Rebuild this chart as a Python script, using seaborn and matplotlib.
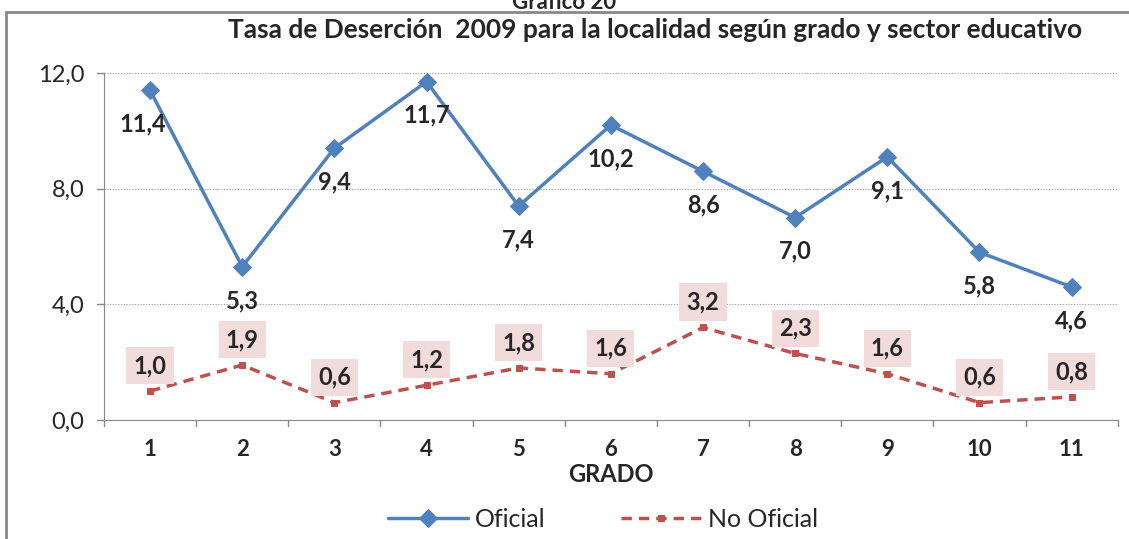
import matplotlib
matplotlib.use("Agg")
import matplotlib.pyplot as plt
import seaborn as sns
import pandas as pd
from matplotlib.patches import Rectangle

# data
grados = [1, 2, 3, 4, 5, 6, 7, 8, 9, 10, 11]
oficial = [11.4, 5.3, 9.4, 11.7, 7.4, 10.2, 8.6, 7.0, 9.1, 5.8, 4.6]
no_oficial = [1.0, 1.9, 0.6, 1.2, 1.8, 1.6, 3.2, 2.3, 1.6, 0.6, 0.8]
y_ticks = [0.0, 4.0, 8.0, 12.0]

df = pd.DataFrame({
    "grado": grados * 2,
    "tasa": oficial + no_oficial,
    "sector": ["Oficial"] * len(grados) + ["No Oficial"] * len(grados),
})

sns.set_style("white")
plt.rcParams["font.family"] = ["Lato", "DejaVu Sans"]

fig = plt.figure(figsize=(11.29, 5.39), dpi=100)
ax = fig.add_axes([0.0921, 0.2208, 0.8979, 0.6438])

blue = "#4F81BD"
red = "#C0504D"

sns.lineplot(data=df[df.sector == "Oficial"], x="grado", y="tasa", ax=ax,
             color=blue, lw=2.5, marker="D", markersize=9, markeredgecolor=blue,
             label="Oficial")
sns.lineplot(data=df[df.sector == "No Oficial"], x="grado", y="tasa", ax=ax,
             color=red, lw=2.5, ls=(0, (3, 2)), marker="s", markersize=5,
             markeredgecolor=red, label="No Oficial")

ax.set_xlim(0.5, 11.5)
ax.set_ylim(0, 12)
ax.set_yticks(y_ticks)
ax.set_yticklabels([f"{v:.1f}".replace(".", ",") for v in y_ticks], fontsize=17)
ax.set_xticks(grados)
ax.set_xticklabels([str(g) for g in grados], fontsize=16, fontweight="bold")
ax.tick_params(axis="x", length=0, pad=14)
ax.tick_params(axis="y", length=0, pad=14)
# category boundary ticks
for b in [g + 0.5 for g in grados[:-1]] + [0.5, 11.5]:
    ax.plot([b, b], [0, -0.22], color="#888888", lw=1, clip_on=False)
for v in y_ticks:
    ax.plot([0.5, 0.42], [v, v], color="#888888", lw=1, clip_on=False)

ax.yaxis.grid(True, color="#999999", ls=(0, (1, 1.5)), lw=0.8)
for s in ["top", "right"]:
    ax.spines[s].set_visible(False)
ax.spines["left"].set_color("#888888")
ax.spines["bottom"].set_color("#888888")

ax.set_xlabel("GRADO", fontsize=17, fontweight="bold", labelpad=2)
ax.set_ylabel("")

for g, v in zip(grados, oficial):
    dx = -0.08 if g == 1 else 0
    ax.annotate(f"{v:.1f}".replace(".", ","), (g + dx, v), xytext=(0, -16),
                textcoords="offset points", ha="center", va="top",
                fontsize=17, fontweight="bold")

for g, v in zip(grados, no_oficial):
    ax.annotate(f"{v:.1f}".replace(".", ","), (g, v), xytext=(0, 10),
                textcoords="offset points", ha="center", va="bottom",
                fontsize=17, fontweight="bold",
                bbox=dict(boxstyle="square,pad=0.3", fc="#F2DCDB", ec="none"))

leg = ax.legend(loc="center", bbox_to_anchor=(0.534, 0.036), bbox_transform=fig.transFigure,
                ncol=2, frameon=False, fontsize=18, handlelength=3.2, handletextpad=0.3,
                columnspacing=3.0, borderpad=0)

fig.text(0.58, 0.945, "Tasa de Deserción  2009 para la localidad según grado y sector educativo",
         ha="center", va="center", fontsize=19, fontweight="bold")
fig.text(0.5, 0.995, "Gráfico 20", ha="center", va="center", fontsize=16, fontweight="bold")
fig.patches.append(Rectangle((0.005, -0.01), 1.2, 0.988, transform=fig.transFigure,
                             fill=False, ec="#888888", lw=2))

fig.savefig("out.png", dpi=100)
